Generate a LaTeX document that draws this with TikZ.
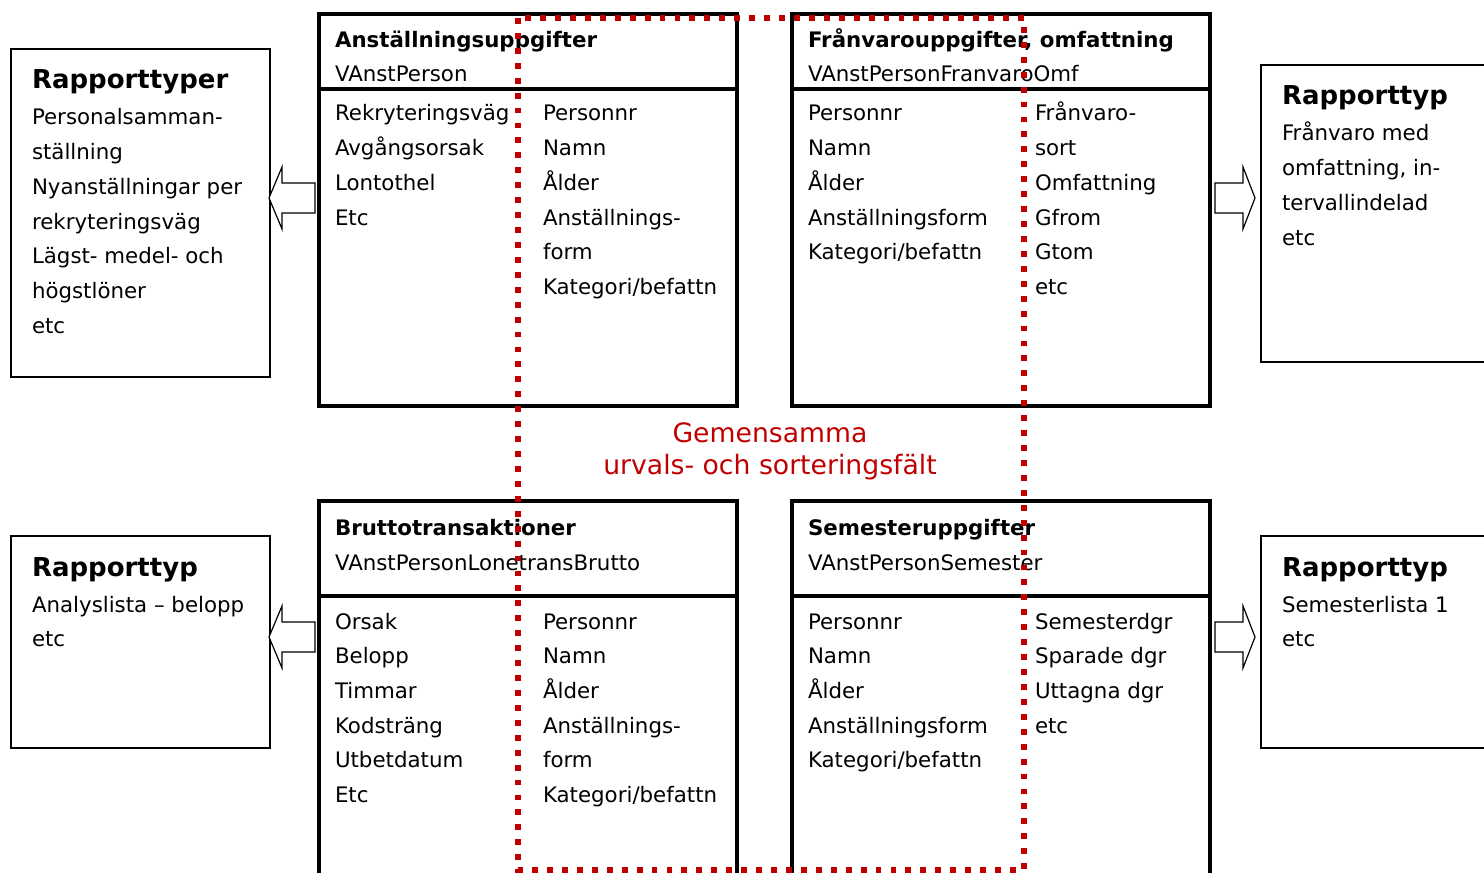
\documentclass[tikz,border=0pt]{standalone}
\usepackage{fontspec}
\setmainfont{DejaVu Sans}
\definecolor{dred}{RGB}{192,0,0}
\tikzset{
  every node/.style={inner sep=0pt, outer sep=0pt},
  txt/.style={anchor=base west, font=\fontsize{16}{19}\selectfont},
  ttl/.style={anchor=base west, font=\fontsize{16}{19}\selectfont\bfseries},
  big/.style={anchor=base west, font=\fontsize{19.5}{23}\selectfont\bfseries},
  mainbox/.style={draw=black, line width=2.7pt},
  repbox/.style={draw=black, line width=1.2pt},
  blockarrow/.style={draw=black, line width=0.9pt, fill=white},
  dotline/.style={draw=dred, line width=4pt, dash pattern=on 4.4pt off 6.8pt},
  redtxt/.style={font=\fontsize{20}{24}\selectfont, text=dred}
}
\newcommand{\colitems}[4]{%
  \foreach \t [count=\i] in {#4} {
    \node[txt] (#3\i) at (#1,{#2+(\i-1)*34.7}) {\t};
  }%
}
\begin{document}
\begin{tikzpicture}[x=0.75pt,y=-0.75pt]
\useasboundingbox (0,0) rectangle (1484,873);

% main boxes
\draw[mainbox] (319,14) rectangle (737,406);
\draw[mainbox] (319,89) -- (737,89);
\draw[mainbox] (792,14) rectangle (1210,406);
\draw[mainbox] (792,89) -- (1210,89);
\draw[mainbox] (319,880) -- (319,501) -- (737,501) -- (737,880);
\draw[mainbox] (319,596) -- (737,596);
\draw[mainbox] (792,880) -- (792,501) -- (1210,501) -- (1210,880);
\draw[mainbox] (792,596) -- (1210,596);

% report boxes
\draw[repbox] (11,49) rectangle (270,377);
\draw[repbox] (1490,65) -- (1261,65) -- (1261,362) -- (1490,362);
\draw[repbox] (11,536) rectangle (270,748);
\draw[repbox] (1490,536) -- (1261,536) -- (1261,748) -- (1490,748);

% block arrows
\draw[blockarrow] (269,198) -- (282,167) -- (282,183) -- (315,183) -- (315,213) -- (282,213) -- (282,229) -- cycle;
\draw[blockarrow] (269,637) -- (282,606) -- (282,622) -- (315,622) -- (315,652) -- (282,652) -- (282,668) -- cycle;
\draw[blockarrow] (1255,198) -- (1243,167) -- (1243,183) -- (1215,183) -- (1215,213) -- (1243,213) -- (1243,229) -- cycle;
\draw[blockarrow] (1255,637) -- (1243,606) -- (1243,622) -- (1215,622) -- (1215,652) -- (1243,652) -- (1243,668) -- cycle;

% top-left box
\node[ttl] (t1) at (335,48) {Anställningsuppgifter};
\node[txt] (s1) at (335,82) {VAnstPerson};
\colitems{335}{121}{a}{Rekryteringsväg,Avgångsorsak,Lontothel,Etc}
\colitems{543}{121}{b}{Personnr,Namn,Ålder,Anställnings-,form,Kategori/befattn}

% top-right box
\node[ttl] (t2) at (808,48) {Frånvarouppgifter, omfattning};
\node[txt] (s2) at (808,82) {VAnstPersonFranvaroOmf};
\colitems{808}{121}{c}{Personnr,Namn,Ålder,Anställningsform,Kategori/befattn}
\colitems{1035}{121}{d}{Frånvaro-,sort,Omfattning,Gfrom,Gtom,etc}

% bottom-left box
\node[ttl] (t3) at (335,535) {Bruttotransaktioner};
\node[txt] (s3) at (335,570) {VAnstPersonLonetransBrutto};
\colitems{335}{629}{e}{Orsak,Belopp,Timmar,Kodsträng,Utbetdatum,Etc}
\colitems{543}{629}{f}{Personnr,Namn,Ålder,Anställnings-,form,Kategori/befattn}

% bottom-right box
\node[ttl] (t4) at (808,535) {Semesteruppgifter};
\node[txt] (s4) at (808,570) {VAnstPersonSemester};
\colitems{808}{629}{g}{Personnr,Namn,Ålder,Anställningsform,Kategori/befattn}
\colitems{1035}{629}{h}{Semesterdgr,Sparade dgr,Uttagna dgr,etc}

% report boxes text
\node[big] (r1) at (32,89) {Rapporttyper};
\colitems{32}{125}{p}{Personalsamman-,ställning,Nyanställningar per,rekryteringsväg,Lägst- medel- och,högstlöner,etc}
\node[big] (r2) at (1282,105) {Rapporttyp};
\colitems{1282}{141}{q}{Frånvaro med,{omfattning, in-},tervallindelad,etc}
\node[big] (r3) at (32,576) {Rapporttyp};
\colitems{32}{612}{u}{Analyslista – belopp,etc}
\node[big] (r4) at (1282,576) {Rapporttyp};
\colitems{1282}{612}{v}{Semesterlista 1,etc}

% red dotted region
\draw[dotline] (518,18) rectangle (1024,870);
\node[redtxt] (g1) at (770,433) {Gemensamma};
\node[redtxt] (g2) at (770,467) {urvals- och sorteringsfält};
\end{tikzpicture}
\end{document}
